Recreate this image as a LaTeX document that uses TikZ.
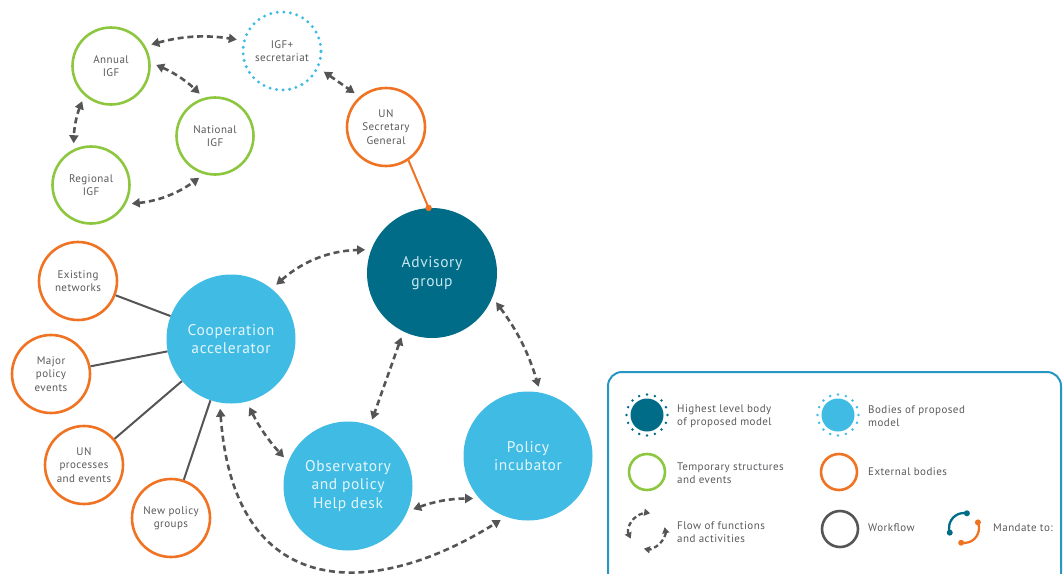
\documentclass[tikz,border=0pt]{standalone}
\usepackage{fontspec}
\setmainfont[LetterSpace=4]{PT Sans}
\usetikzlibrary{arrows.meta,calc}
\definecolor{igfgreen}{RGB}{141,198,63}
\definecolor{unorange}{RGB}{240,115,35}
\definecolor{lblue}{RGB}{64,188,228}
\definecolor{dteal}{RGB}{0,108,135}
\definecolor{txtgray}{RGB}{88,89,91}
\definecolor{arrgray}{RGB}{85,85,85}
\definecolor{boxblue}{RGB}{38,150,195}
\definecolor{bodytxt}{RGB}{228,246,252}
\definecolor{advtxt}{RGB}{200,232,240}
\newcommand{\mysmallf}{\fontsize{11}{13.5}\selectfont}
\newcommand{\mybigf}{\fontsize{15.5}{18.5}\selectfont}
\newcommand{\mylegf}{\fontsize{11}{13.5}\selectfont}
\begin{document}
\begin{tikzpicture}[x=1pt,y=1pt,
  base/.style={circle,inner sep=0pt,align=center},
  tempc/.style={base,draw=igfgreen,line width=2.6pt,minimum size=77pt,text=txtgray,font=\mysmallf},
  extc/.style={base,draw=unorange,line width=2.6pt,minimum size=78pt,text=txtgray,font=\mysmallf},
  secc/.style={base,draw=lblue,line width=3.3pt,dash pattern=on 0pt off 6.6pt,line cap=round,minimum size=78pt,text=txtgray,font=\mysmallf},
  bodyc/.style={base,fill=lblue,minimum size=129pt,text=bodytxt,font=\mybigf},
  topc/.style={base,fill=dteal,minimum size=130pt,text=advtxt,font=\mybigf},
  flow/.style={draw=arrgray,line width=2.6pt,dash pattern=on 6pt off 3.8pt,
    {Triangle[length=8pt,width=9pt]}-{Triangle[length=8pt,width=9pt]},shorten <=6pt,shorten >=6pt},
  flowsmall/.style={draw=arrgray,line width=2.3pt,dash pattern=on 4.5pt off 3pt,
    {Triangle[length=6pt,width=7pt]}-{Triangle[length=6pt,width=7pt]}},
  work/.style={draw=arrgray,line width=2pt},
  legtxt/.style={anchor=west,align=left,inner sep=0pt,text=txtgray,font=\mylegf},
]
\useasboundingbox (0,0) rectangle (1064,-573);

% IGF cluster
\node[tempc] (annual) at (111,-66) {Annual\\IGF};
\node[secc] (igfp) at (282,-51) {IGF+\\secretariat};
\node[tempc] (national) at (215,-136) {National\\IGF};
\node[tempc] (regional) at (91,-185) {Regional\\IGF};
\node[extc] (unsg) at (386,-127) {UN\\Secretary\\General};

% main bodies
\node[topc] (adv) at (432,-273) {Advisory\\group};
\node[bodyc] (coop) at (231,-339) {Cooperation\\accelerator};
\node[bodyc] (obs) at (348,-486) {Observatory\\and policy\\Help desk};
\node[bodyc] (pinc) at (528,-456) {Policy\\incubator};

% external bodies
\node[extc] (exnet) at (78,-281) {Existing\\networks};
\node[extc] (major) at (51,-374) {Major\\policy\\events};
\node[extc] (unproc) at (84,-465) {UN\\processes\\and events};
\node[extc] (newpol) at (171,-518) {New policy\\groups};

% workflow lines
\draw[work] (exnet) -- (coop);
\draw[work] (major) -- (coop);
\draw[work] (unproc) -- (coop);
\draw[work] (newpol) -- (coop);

% mandate
\draw[unorange,line width=2pt] (unsg.-56) -- (adv.93);
\fill[unorange] (adv.93) circle (3.2pt);

% flows
\draw[flow] (annual.30) to[bend left=12] (igfp.165);
\draw[flow] (annual.5) to[bend left=10] (national.106);
\draw[flow] (annual.228) to[bend right=10] (regional.116);
\draw[flow] (regional.-29) to[bend right=15] (national.254);
\draw[flow] (igfp.-25) -- (unsg.131);
\draw[flow] (coop.51) to[bend left=20] (adv.159);
\draw[flow] (adv.-22) to[bend left=10] (pinc.79);
\draw[flow] (adv.244) -- (obs.70);
\draw[flow] (coop.-76) to[bend right=8] (obs.158);
\draw[flow] (obs.-23) to[bend left=10] (pinc.221);
\draw[flow] (coop.260) to[out=-86,in=212,out distance=198pt,in distance=160pt] (pinc.250);

% legend
\draw[boxblue,line width=2pt,rounded corners=14pt] (608,-372) rectangle (1061,-610);

\node[base,fill=dteal,minimum size=33pt] (lg1) at (647,-415) {};
\foreach \a in {0,22.5,...,337.5} \fill[dteal] ($(lg1.center)+(\a:20.5pt)$) circle (1.4pt);
\node[legtxt] (lt1) at (677,-416) {Highest level body\\of proposed model};

\node[base,fill=lblue,minimum size=33pt] (lg2) at (838,-415) {};
\foreach \a in {0,22.5,...,337.5} \fill[lblue] ($(lg2.center)+(\a:20.5pt)$) circle (1.4pt);
\node[legtxt] (lt2) at (868,-416) {Bodies of proposed\\model};

\node[base,draw=igfgreen,line width=2.6pt,minimum size=36pt] (lg3) at (647,-472) {};
\node[legtxt] (lt3) at (677,-473) {Temporary structures\\and events};

\node[base,draw=unorange,line width=2.6pt,minimum size=36pt] (lg4) at (839,-472) {};
\node[legtxt] (lt4) at (868,-472) {External bodies};

\coordinate (lg5) at (647,-531);
\begin{scope}[shift={(lg5)}]
\draw[flowsmall] (205:18pt) arc[start angle=205,end angle=80,radius=18pt];
\draw[flowsmall] (12:18pt) arc[start angle=12,end angle=-100,radius=18pt];
\end{scope}
\node[legtxt] (lt5) at (677,-532) {Flow of functions\\and activities};

\node[base,draw=arrgray,line width=2.6pt,minimum size=36pt] (lg6) at (840,-529) {};
\node[legtxt] (lt6) at (868,-528) {Workflow};

\coordinate (lg7) at (964,-528);
\begin{scope}[shift={(lg7)}]
\draw[dteal,line width=2.3pt] (79:15pt) arc[start angle=79,end angle=198,radius=15pt];
\fill[dteal] (79:15pt) circle (3pt);
\fill[dteal] (198:15pt) circle (3pt);
\draw[unorange,line width=2.3pt] (22:15pt) arc[start angle=22,end angle=-101,radius=15pt];
\fill[unorange] (22:15pt) circle (3pt);
\fill[unorange] (-101:15pt) circle (3pt);
\end{scope}
\node[legtxt] (lt7) at (993,-528) {Mandate to:};
\end{tikzpicture}
\end{document}
